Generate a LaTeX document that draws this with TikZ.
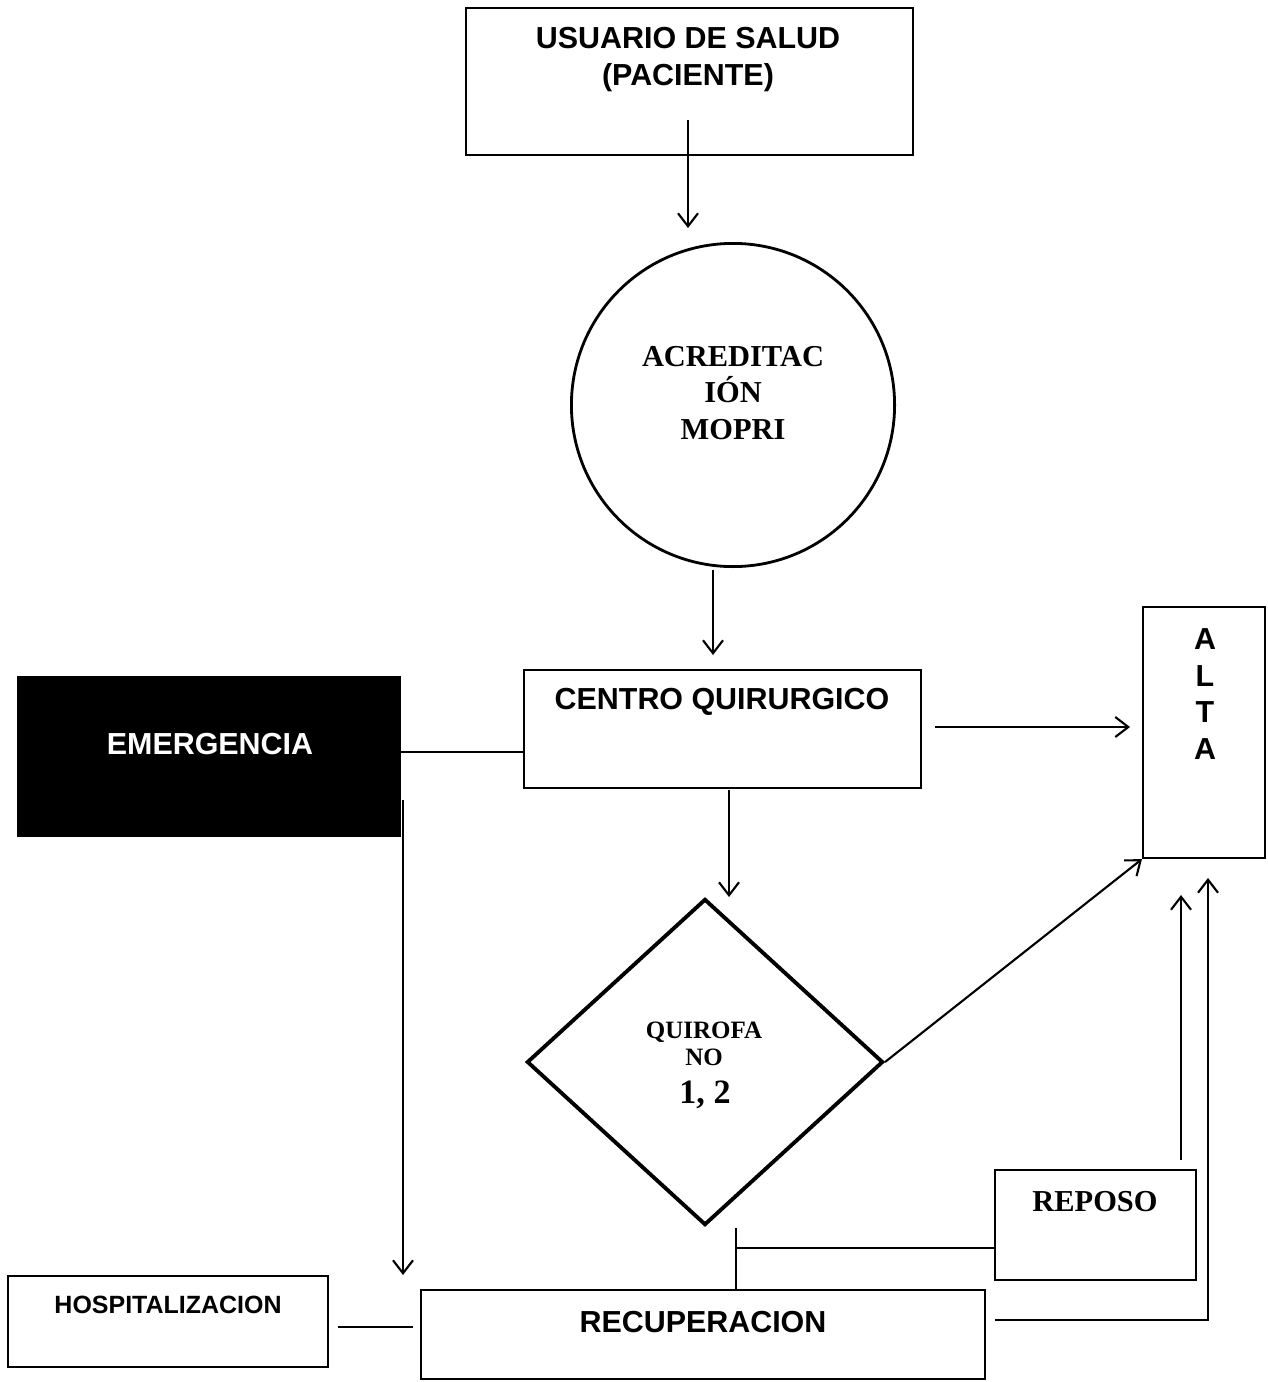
\documentclass[tikz,border=0pt]{standalone}
\usepackage{fontspec}
\setmainfont{Liberation Serif}
\setsansfont{Liberation Sans}
\usetikzlibrary{arrows.meta,shapes.geometric}
\begin{document}
\begin{tikzpicture}[x=0.01cm,y=-0.01cm,
  box/.style={draw,line width=0.6pt,rectangle,inner sep=0pt},
  stxt/.style={font=\sffamily\bfseries\fontsize{8.65}{10.5}\selectfont,align=center,inner sep=0pt},
  smtxt/.style={font=\sffamily\bfseries\fontsize{7.1}{9}\selectfont,align=center,inner sep=0pt},
  rtxt/.style={font=\rmfamily\bfseries\fontsize{8.65}{10.4}\selectfont,align=center,inner sep=0pt},
  conn/.style={line width=0.6pt},
  arr/.style={conn,-{Straight Barb[length=1.3mm,width=2mm]}},
]
\useasboundingbox[fill=white] (0,0) rectangle (1268,1382);

% nodes
\node[box,minimum width=4.47cm,minimum height=1.47cm] (user) at (689.5,81.5) {};
\node[stxt] (usertxt) at (688,60) {USUARIO DE SALUD\\(PACIENTE)};

\node[circle,draw,line width=0.8pt,minimum size=3.23cm,inner sep=0pt] (acr) at (733,405) {};
\node[rtxt] (acrtxt) at (733,393) {ACREDITAC\\IÓN\\MOPRI};

\node[box,minimum width=3.97cm,minimum height=1.18cm] (centro) at (722.5,729) {};
\node[stxt] (centrotxt) at (722,702) {CENTRO QUIRURGICO};

\node[box,fill=black,minimum width=3.82cm,minimum height=1.59cm] (emerg) at (209,756.5) {};
\node[stxt,text=white] (emergtxt) at (210,744) {EMERGENCIA};

\node[box,minimum width=1.22cm,minimum height=2.51cm] (alta) at (1204,732.5) {};
\node[stxt,font=\sffamily\bfseries\fontsize{8.65}{10.4}\selectfont] (altatxt) at (1205,694) {A\\L\\T\\A};

\node[diamond,draw,line width=1.1pt,minimum width=3.56cm,minimum height=3.26cm,inner sep=0pt] (quir) at (705,1062) {};
\node[rtxt,font=\rmfamily\bfseries\fontsize{7.1}{7.7}\selectfont] (quirtxt) at (704,1044) {QUIROFA\\NO};
\node[rtxt,font=\rmfamily\bfseries\fontsize{9.7}{12}\selectfont] (quirnum) at (705,1095) {1, 2};

\node[box,minimum width=2.01cm,minimum height=1.10cm] (reposo) at (1095.5,1225) {};
\node[rtxt] (repostxt) at (1095,1202) {REPOSO};

\node[box,minimum width=5.64cm,minimum height=0.89cm] (recup) at (703,1334.5) {};
\node[stxt] (recuptxt) at (703,1322) {RECUPERACION};

\node[box,minimum width=3.20cm,minimum height=0.91cm] (hosp) at (168,1321.5) {};
\node[smtxt] (hosptxt) at (168,1305) {HOSPITALIZACION};

% free connector ends
\coordinate (u1) at (688,120);
\coordinate (u2) at (688,228);
\coordinate (a1) at (713,570);
\coordinate (a2) at (713,655);
\coordinate (c1) at (935,727);
\coordinate (c2) at (1130,727);
\coordinate (c3) at (729,790);
\coordinate (c4) at (729,897);
\coordinate (e0) at (400,752);
\coordinate (e1) at (403,800);
\coordinate (e2) at (403,1275);
\coordinate (t1) at (736,1228);
\coordinate (t2) at (736,1248);
\coordinate (p1) at (1181,1160);
\coordinate (p2) at (1181,895);
\coordinate (r1) at (995,1320);
\coordinate (r2) at (1208,1320);
\coordinate (r3) at (1208,878);
\coordinate (h1) at (338,1327);
\coordinate (h2) at (413,1327);

% connectors
\draw[arr] (u1) -- (u2);
\draw[arr] (a1) -- (a2);
\draw[arr] (c1) -- (c2);
\draw[arr] (c3) -- (c4);
\draw[conn] (e0) -- (e0 -| centro.west);
\draw[arr] (e1) -- (e2);
\draw[arr] (quir.east) -- (alta.south west);
\draw[conn] (t1) -- (t1 |- recup.north);
\draw[conn] (t2) -- (t2 -| reposo.west);
\draw[arr] (p1) -- (p2);
\draw[arr] (r1) -- (r2) -- (r3);
\draw[conn] (h1) -- (h2);
\end{tikzpicture}
\end{document}
